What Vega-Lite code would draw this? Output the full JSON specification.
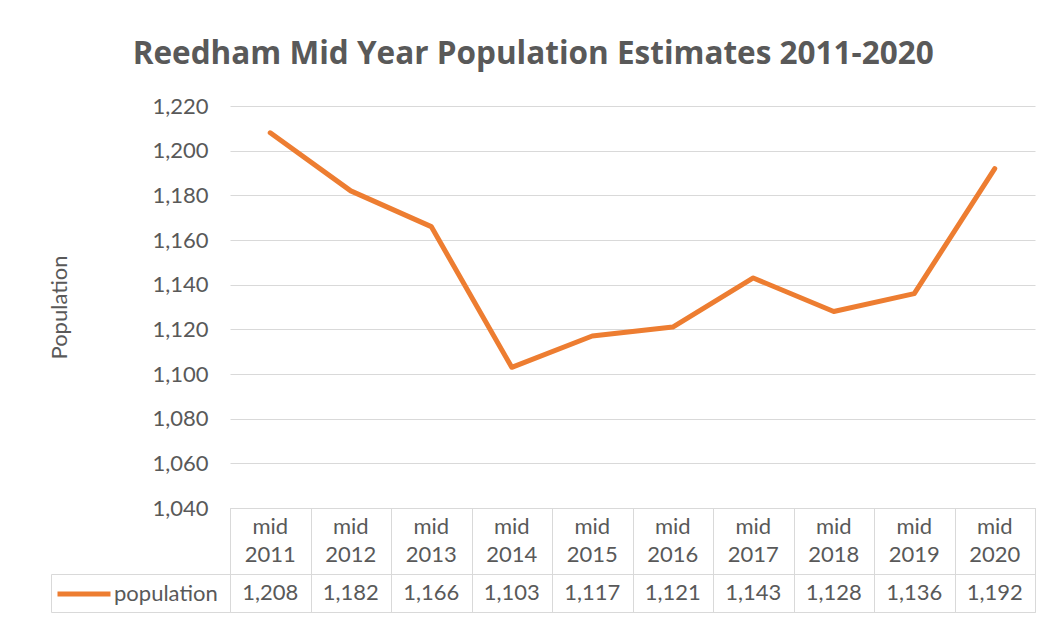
{
  "$schema": "https://vega.github.io/schema/vega-lite/v6.json",
  "padding": {"left": 48, "top": 38, "right": 10, "bottom": 5},
  "background": "white",
  "title": {"text": "Reedham Mid Year Population Estimates 2011-2020", "font": "Open Sans", "fontSize": 31.5, "fontWeight": "bold", "color": "#595959", "anchor": "middle", "frame": "bounds", "offset": 25, "dx": -9},
  "datasets": {
    "pop": [
      {"year": "mid 2011", "population": 1208, "series": "population"},
      {"year": "mid 2012", "population": 1182, "series": "population"},
      {"year": "mid 2013", "population": 1166, "series": "population"},
      {"year": "mid 2014", "population": 1103, "series": "population"},
      {"year": "mid 2015", "population": 1117, "series": "population"},
      {"year": "mid 2016", "population": 1121, "series": "population"},
      {"year": "mid 2017", "population": 1143, "series": "population"},
      {"year": "mid 2018", "population": 1128, "series": "population"},
      {"year": "mid 2019", "population": 1136, "series": "population"},
      {"year": "mid 2020", "population": 1192, "series": "population"}
    ]
  },
  "spacing": 0,
  "bounds": "flush",
  "resolve": {"scale": {"x": "independent", "y": "independent"}},
  "vconcat": [
    {
      "width": 805,
      "height": 402,
      "view": {"stroke": null},
      "data": {"name": "pop"},
      "mark": {"type": "line", "strokeWidth": 5, "strokeCap": "round", "strokeJoin": "round"},
      "encoding": {
        "x": {"field": "year", "type": "nominal", "scale": {"type": "point", "padding": 0.5}, "axis": null},
        "y": {"field": "population", "type": "quantitative", "scale": {"domain": [1040, 1220], "nice": false, "zero": false},
          "axis": {"values": [1040, 1060, 1080, 1100, 1120, 1140, 1160, 1180, 1200, 1220], "format": ",.0f", "grid": true, "gridColor": "#d9d9d9", "gridWidth": 1, "ticks": false, "domain": false,
            "labelFont": "Lato", "labelFontSize": 22, "labelColor": "#595959", "labelPadding": 22,
            "title": "Population", "titleFont": "Lato", "titleFontSize": 22, "titleFontWeight": "normal", "titleColor": "#595959", "titlePadding": 80}},
        "color": {"field": "series", "type": "nominal", "scale": {"range": ["#ED7D31"]},
          "legend": {"orient": "none", "legendX": -175, "legendY": 459, "title": null, "symbolType": "stroke", "symbolSize": 2809, "symbolStrokeWidth": 5, "labelFont": "Lato", "labelFontSize": 22, "labelColor": "#595959", "labelOffset": 1, "padding": 0}}
      }
    },
    {
      "width": 805,
      "height": 66,
      "view": {"stroke": "#d9d9d9"},
      "data": {"name": "pop"},
      "mark": {"type": "text", "font": "Lato", "fontSize": 22, "color": "#595959", "lineBreak": " ", "lineHeight": 28, "dy": -14},
      "encoding": {
        "x": {"field": "year", "type": "nominal", "scale": {"type": "band", "paddingInner": 0, "paddingOuter": 0},
          "axis": {"grid": true, "tickBand": "extent", "gridColor": "#d9d9d9", "ticks": false, "labels": false, "domain": false, "title": null}},
        "text": {"field": "year", "type": "nominal"}
      }
    },
    {
      "width": 805,
      "height": 38,
      "view": {"stroke": "#d9d9d9"},
      "data": {"name": "pop"},
      "mark": {"type": "text", "font": "Lato", "fontSize": 22, "color": "#595959"},
      "encoding": {
        "x": {"field": "year", "type": "nominal", "scale": {"type": "band", "paddingInner": 0, "paddingOuter": 0},
          "axis": {"grid": true, "tickBand": "extent", "gridColor": "#d9d9d9", "ticks": false, "labels": false, "domain": false, "title": null}},
        "y": {"field": "series", "type": "nominal", "scale": {"type": "band", "paddingInner": 0, "paddingOuter": 0},
          "axis": {"orient": "left", "offset": 179, "domain": true, "domainColor": "#d9d9d9", "ticks": true, "tickBand": "extent", "tickSize": -179, "tickColor": "#d9d9d9", "labels": false, "title": null, "grid": false}},
        "text": {"field": "population", "type": "quantitative", "format": ","}
      }
    }
  ]
}
